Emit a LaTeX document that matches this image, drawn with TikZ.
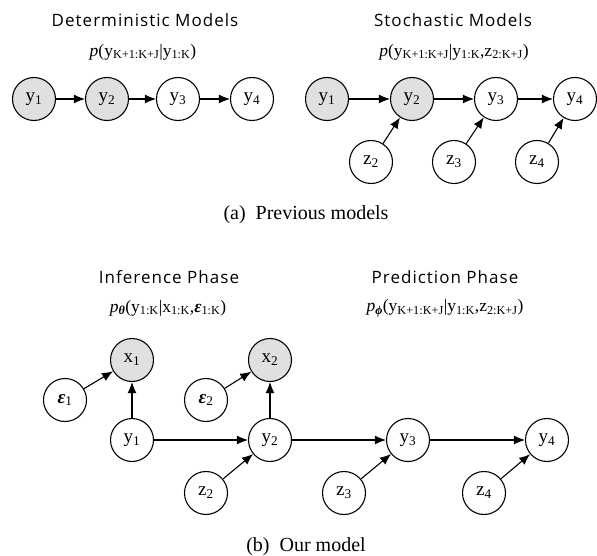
\documentclass[tikz,border=0pt]{standalone}
\usepackage{fontspec}
\setmainfont{Liberation Serif}
\newfontfamily\headfont[LetterSpace=6]{Open Sans}
\usetikzlibrary{arrows.meta}
\tikzset{
  rv/.style={draw,circle,line width=1.1pt,minimum size=43pt,inner sep=0pt,font=\fontsize{19}{19}\selectfont},
  obs/.style={rv,fill=black!12},
  edge/.style={line width=1.1pt,-{Latex[length=11pt,width=9pt]}},
  head/.style={font=\headfont\fontsize{17}{20}\selectfont},
  dist/.style={font=\fontsize{17.5}{20}\selectfont},
  capt/.style={font=\fontsize{20}{22}\selectfont}
}
\begin{document}
\begin{tikzpicture}[x=1pt,y=-1pt]
    \useasboundingbox (0,0) rectangle (597,556);

    % Deterministic
    \node[head] (dtitle) at (145,20) {Deterministic Models};
    \node[dist] (ddist) at (143,52) {\textit{p}(y\textsubscript{K+1:K+J}|y\textsubscript{1:K})};
    \node[obs] (dy1) at (34,99) {y\textsubscript{1}};
    \node[obs] (dy2) at (107,99) {y\textsubscript{2}};
    \node[rv] (dy3) at (178,99) {y\textsubscript{3}};
    \node[rv] (dy4) at (252,99) {y\textsubscript{4}};
    \draw[edge] (dy1) -- (dy2);
    \draw[edge] (dy2) -- (dy3);
    \draw[edge] (dy3) -- (dy4);

    % Stochastic
    \node[head] (stitle) at (453,20) {Stochastic Models};
    \node[dist] (sdist) at (454,52) {\textit{p}(y\textsubscript{K+1:K+J}|y\textsubscript{1:K},z\textsubscript{2:K+J})};
    \node[obs] (sy1) at (327,99) {y\textsubscript{1}};
    \node[obs] (sy2) at (412,99) {y\textsubscript{2}};
    \node[rv] (sy3) at (496,99) {y\textsubscript{3}};
    \node[rv] (sy4) at (575,99) {y\textsubscript{4}};
    \node[rv] (sz2) at (371,162) {z\textsubscript{2}};
    \node[rv] (sz3) at (454,162) {z\textsubscript{3}};
    \node[rv] (sz4) at (537,162) {z\textsubscript{4}};
    \draw[edge] (sy1) -- (sy2);
    \draw[edge] (sy2) -- (sy3);
    \draw[edge] (sy3) -- (sy4);
    \foreach \i in {2,3,4} \draw[edge] (sz\i) -- (sy\i);

    \node[capt] (capa) at (306,215) {(a)\enspace Previous models};

    % Inference / prediction
    \node[head] (ititle) at (169,277) {Inference Phase};
    \node[dist] (idist) at (168,308) {\textit{p}\textsubscript{\textbf{\textit{θ}}}(y\textsubscript{1:K}|x\textsubscript{1:K},\textbf{\textit{ε}}\textsubscript{1:K})};
    \node[head] (ptitle) at (445,277) {Prediction Phase};
    \node[dist] (pdist) at (445,308) {\textit{p}\textsubscript{\textbf{\textit{ϕ}}}(y\textsubscript{K+1:K+J}|y\textsubscript{1:K},z\textsubscript{2:K+J})};

    \node[obs] (x1) at (132,360) {x\textsubscript{1}};
    \node[obs] (x2) at (270,360) {x\textsubscript{2}};
    \node[rv] (e1) at (65,400) {\textbf{\textit{ε}}\textsubscript{1}};
    \node[rv] (e2) at (206,400) {\textbf{\textit{ε}}\textsubscript{2}};
    \node[rv] (y1) at (132,440) {y\textsubscript{1}};
    \node[rv] (y2) at (270,440) {y\textsubscript{2}};
    \node[rv] (y3) at (408,440) {y\textsubscript{3}};
    \node[rv] (y4) at (547,440) {y\textsubscript{4}};
    \node[rv] (z2) at (206,493) {z\textsubscript{2}};
    \node[rv] (z3) at (344,493) {z\textsubscript{3}};
    \node[rv] (z4) at (484,493) {z\textsubscript{4}};
    \foreach \i in {1,2} {
      \draw[edge] (e\i) -- (x\i);
      \draw[edge] (y\i) -- (x\i);
    }
    \draw[edge] (y1) -- (y2);
    \draw[edge] (y2) -- (y3);
    \draw[edge] (y3) -- (y4);
    \foreach \i in {2,3,4} \draw[edge] (z\i) -- (y\i);

    \node[capt] (capb) at (306,547) {(b)\enspace Our model};
\end{tikzpicture}
\end{document}
